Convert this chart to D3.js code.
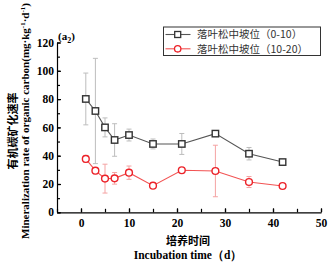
<!DOCTYPE html>
<html>
<head>
<meta charset="utf-8">
<script src="https://cdn.jsdelivr.net/npm/d3@7"></script>
<style>
body { margin: 0; background: #fff; }
.axis path, .axis line { stroke: #000; stroke-width: 1.2; }
.serif { font-family: "Liberation Serif", "DejaVu Serif", serif; font-weight: bold; }
</style>
</head>
<body>
<script>
// incubation days and mineralization rates (mg/kg/d)
var days = [1, 3, 5, 7, 10, 15, 21, 28, 35, 42];
var upper = [80.1, 71.6, 60.0, 51.1, 54.6, 48.3, 48.3, 55.6, 41.4, 35.5];
var upperErr = [18.3, 37.2, 6.7, 11.5, 4.2, 3.5, 7.4, 0.8, 4.4, 0.8];
var lower = [37.7, 29.4, 23.8, 24.0, 28.0, 18.8, 29.7, 29.2, 21.4, 18.6];
var lowerErr = [2.5, 2.2, 10.2, 4.1, 4.7, 1.5, 0.8, 18.2, 3.9, 0.8];
var seriesNames = ["落叶松中坡位（0-10）", "落叶松中坡位（10-20）"];
var xTicks = [0, 10, 20, 30, 40, 50];
var yTicks = [0, 20, 40, 60, 80, 100, 120];

var margin = {top: 42.5, right: 9, bottom: 52.7, left: 57},
    width = 330 - margin.left - margin.right,
    height = 265 - margin.top - margin.bottom;

var x = d3.scaleLinear()
    .domain([-5, 50])
    .range([0, width]);

var y = d3.scaleLinear()
    .domain([0, 120])
    .range([height, 0]);

var svg = d3.select("body").append("svg")
    .attr("width", 330)
    .attr("height", 265)
    .append("g")
    .attr("transform", "translate(" + margin.left + "," + margin.top + ")");

// minor ticks first, then labelled axes on top
svg.append("g")
    .attr("class", "axis")
    .attr("transform", "translate(0," + height + ")")
    .call(d3.axisBottom(x).tickValues(d3.range(-5, 51, 5)).tickSize(-3.5).tickFormat(""))
    .select(".domain").remove();

svg.append("g")
    .attr("class", "axis")
    .call(d3.axisLeft(y).tickValues(d3.range(0, 121, 10)).tickSize(-3).tickFormat(""))
    .select(".domain").remove();

svg.append("g")
    .attr("class", "x axis")
    .attr("transform", "translate(0," + height + ")")
    .call(d3.axisBottom(x).tickValues(xTicks).tickSizeInner(-4).tickSizeOuter(0).tickPadding(7));

svg.append("g")
    .attr("class", "y axis")
    .call(d3.axisLeft(y).tickValues(yTicks).tickSizeInner(-4).tickSizeOuter(0).tickPadding(3));

svg.selectAll(".tick text")
    .style("font-family", "'Liberation Serif', 'DejaVu Serif', serif")
    .style("font-weight", "bold")
    .style("font-size", "11.5px")
    .style("fill", "#000");

// axis titles
svg.append("text")
    .attr("x", 188 - margin.left)
    .attr("y", 245 - margin.top)
    .style("text-anchor", "middle")
    .style("font-family", "'Noto Sans CJK SC'")
    .style("font-weight", "bold")
    .style("font-size", "11px")
    .text("培养时间");

svg.append("text")
    .attr("class", "serif")
    .attr("x", 188 - margin.left)
    .attr("y", 259 - margin.top)
    .style("text-anchor", "middle")
    .style("font-size", "11.5px")
    .text("Incubation time（d）");

var ytitle = svg.append("g")
    .attr("transform", "translate(" + (-margin.left) + "," + (121 - margin.top) + ") rotate(-90)");

ytitle.append("text")
    .attr("x", -10)
    .attr("y", 17)
    .style("text-anchor", "middle")
    .style("font-family", "'Noto Sans CJK SC'")
    .style("font-weight", "bold")
    .style("font-size", "11px")
    .text("有机碳矿化速率");

var en = ytitle.append("text")
    .attr("class", "serif")
    .attr("y", 29)
    .style("text-anchor", "middle")
    .style("font-size", "11px");
en.append("tspan").text("Mineralization rate of organic carbon(mg·kg");
en.append("tspan").attr("dy", -4).style("font-size", "7px").text("-1");
en.append("tspan").attr("dy", 4).text("·d");
en.append("tspan").attr("dy", -4).style("font-size", "7px").text("-1");
en.append("tspan").attr("dy", 4).text(")");

var panel = svg.append("text")
    .attr("class", "serif")
    .attr("x", 1)
    .attr("y", -3)
    .style("font-size", "11px")
    .text("(a");
panel.append("tspan").attr("dy", 3).style("font-size", "8px").text("2");
panel.append("tspan").attr("dy", -3).text(")");

// series
var series = [
    {name: seriesNames[0], vals: upper, err: upperErr, line: "#555", mark: "#333", bar: "#bdbdbd", shape: "square"},
    {name: seriesNames[1], vals: lower, err: lowerErr, line: "#f25353", mark: "#ec2229", bar: "#f4a3a3", shape: "circle"}
];

var line = d3.line()
    .x(function(d) { return x(d[0]); })
    .y(function(d) { return y(d[1]); });

series.forEach(function(s) {
    var pts = days.map(function(d, i) { return [d, s.vals[i], s.err[i]]; });
    var g = svg.append("g");

    var eb = g.selectAll(".err")
        .data(pts)
        .enter().append("g")
        .attr("stroke", s.bar)
        .attr("stroke-width", 1);
    eb.append("line")
        .attr("x1", function(d) { return x(d[0]); })
        .attr("x2", function(d) { return x(d[0]); })
        .attr("y1", function(d) { return y(d[1] - d[2]); })
        .attr("y2", function(d) { return y(d[1] + d[2]); });
    eb.append("line")
        .attr("x1", function(d) { return x(d[0]) - 2.5; })
        .attr("x2", function(d) { return x(d[0]) + 2.5; })
        .attr("y1", function(d) { return y(d[1] + d[2]); })
        .attr("y2", function(d) { return y(d[1] + d[2]); });
    eb.append("line")
        .attr("x1", function(d) { return x(d[0]) - 2.5; })
        .attr("x2", function(d) { return x(d[0]) + 2.5; })
        .attr("y1", function(d) { return y(d[1] - d[2]); })
        .attr("y2", function(d) { return y(d[1] - d[2]); });

    g.append("path")
        .datum(pts)
        .attr("fill", "none")
        .attr("stroke", s.line)
        .attr("stroke-width", 1.1)
        .attr("d", line);

    if (s.shape == "square") {
        g.selectAll(".pt")
            .data(pts)
            .enter().append("rect")
            .attr("x", function(d) { return x(d[0]) - 3.2; })
            .attr("y", function(d) { return y(d[1]) - 3.2; })
            .attr("width", 6.4)
            .attr("height", 6.4)
            .attr("fill", "#fff")
            .attr("stroke", s.mark)
            .attr("stroke-width", 1.4);
    } else {
        g.selectAll(".pt")
            .data(pts)
            .enter().append("circle")
            .attr("cx", function(d) { return x(d[0]); })
            .attr("cy", function(d) { return y(d[1]); })
            .attr("r", 3.4)
            .attr("fill", "#fff")
            .attr("stroke", s.mark)
            .attr("stroke-width", 1.4);
    }
});

// legend
var lx = 163.5 - margin.left, ly = 27 - margin.top;
svg.append("rect")
    .attr("x", lx)
    .attr("y", ly)
    .attr("width", 157)
    .attr("height", 28.5)
    .attr("fill", "#fff")
    .attr("stroke", "#333")
    .attr("stroke-width", 1);

var legend = svg.selectAll(".legend")
    .data(series)
    .enter().append("g")
    .attr("class", "legend")
    .attr("transform", function(d, i) { return "translate(" + lx + "," + (ly + 7.5 + i * 14.3) + ")"; });

legend.append("line")
    .attr("x1", 2)
    .attr("x2", 27)
    .attr("stroke", function(d) { return d.line; })
    .attr("stroke-width", 1.1);

legend.filter(function(d) { return d.shape == "square"; }).append("rect")
    .attr("x", 14.2 - 3)
    .attr("y", -3)
    .attr("width", 6)
    .attr("height", 6)
    .attr("fill", "#fff")
    .attr("stroke", function(d) { return d.mark; })
    .attr("stroke-width", 1.3);

legend.filter(function(d) { return d.shape == "circle"; }).append("circle")
    .attr("cx", 14.2)
    .attr("r", 3.2)
    .attr("fill", "#fff")
    .attr("stroke", function(d) { return d.mark; })
    .attr("stroke-width", 1.3);

legend.append("text")
    .attr("x", 33.5)
    .attr("dy", "0.36em")
    .style("font-family", "'Noto Sans CJK SC'")
    .style("font-size", "10.5px")
    .style("fill", "#333")
    .text(function(d) { return d.name; });
</script>
</body>
</html>
